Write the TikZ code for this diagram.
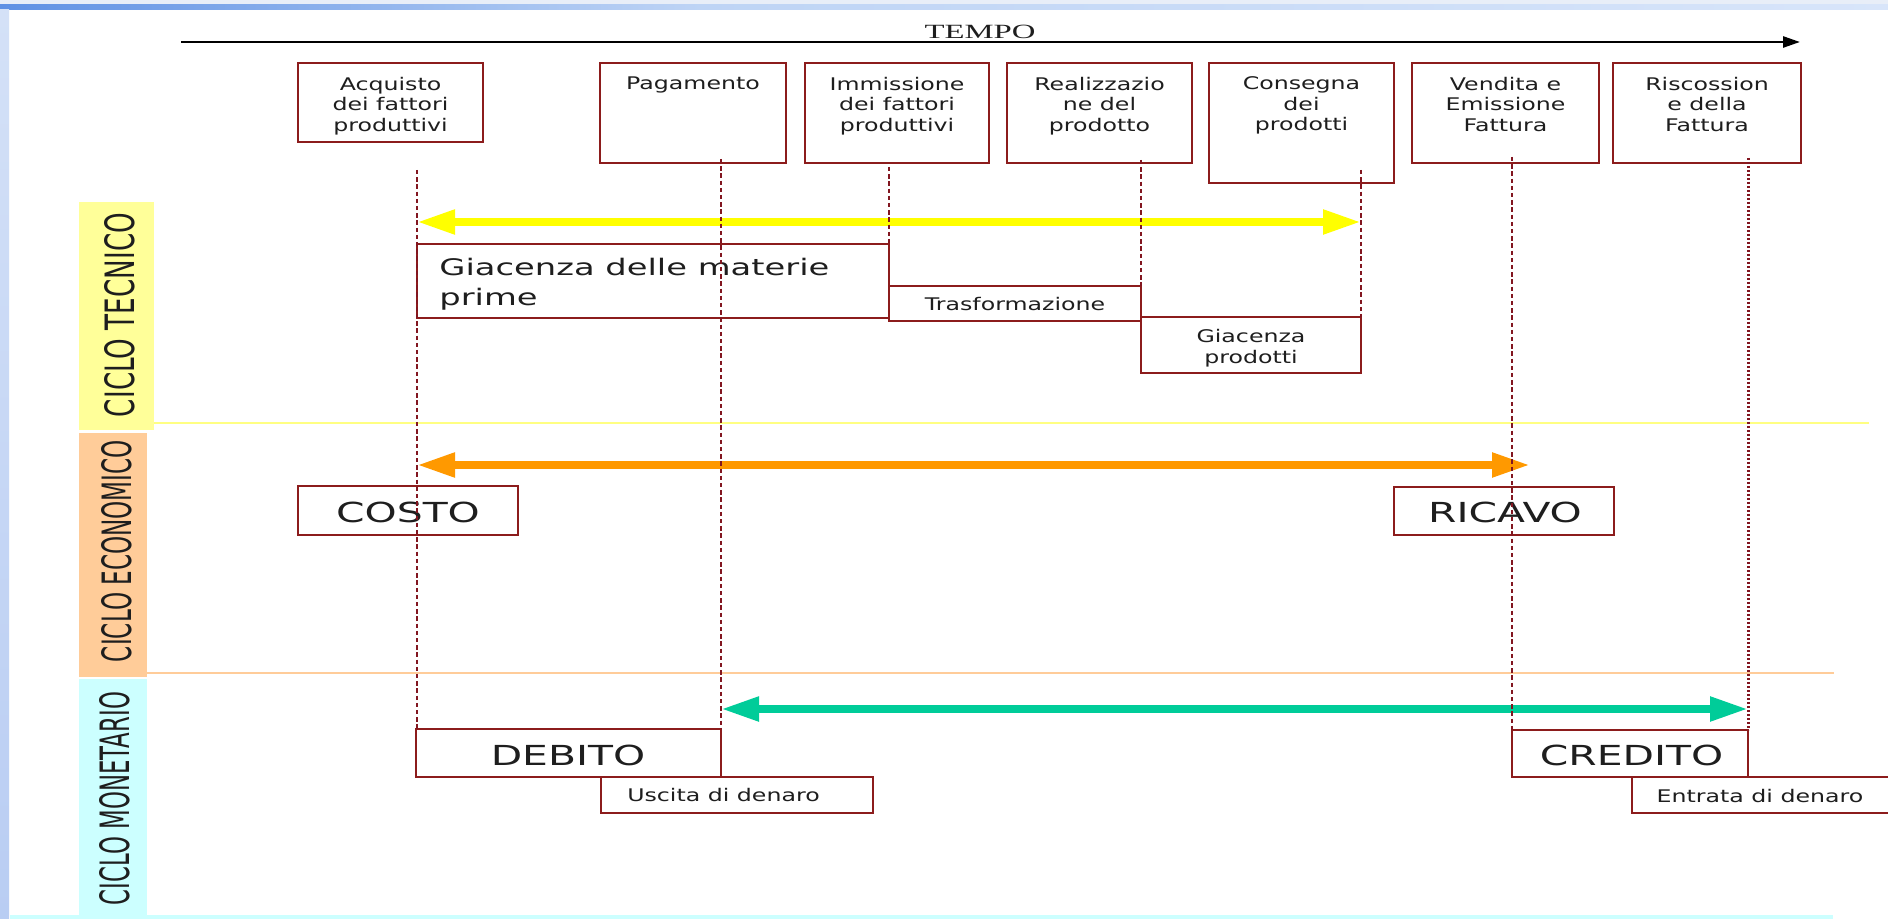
\documentclass[tikz,border=0pt]{standalone}
\usepackage{fontspec}
\usepackage{graphicx}
\usetikzlibrary{arrows.meta,fit}
\newfontfamily\smallf{DejaVu Sans}[FakeStretch=1.36]
\newfontfamily\bigf{DejaVu Sans}[FakeStretch=1.48]
\newfontfamily\tempof{Liberation Serif}[FakeStretch=1.62]
\newfontfamily\bandf{DejaVu Sans}
\definecolor{boxred}{RGB}{140,28,28}
\definecolor{dashred}{RGB}{130,22,32}
\definecolor{yel}{RGB}{255,255,0}
\definecolor{org}{RGB}{255,153,0}
\definecolor{grn}{RGB}{0,204,153}
\definecolor{bandY}{RGB}{255,255,153}
\definecolor{bandO}{RGB}{255,204,153}
\definecolor{bandC}{RGB}{204,255,255}
\definecolor{txt}{RGB}{30,30,30}
\definecolor{topbg}{RGB}{232,238,248}
\definecolor{topA}{RGB}{95,145,228}
\definecolor{topB}{RGB}{190,212,245}
\definecolor{topC}{RGB}{216,229,250}
\definecolor{leftA}{RGB}{212,225,247}
\definecolor{leftB}{RGB}{185,205,243}
\tikzset{
  boxst/.style={draw=boxred, line width=1.2pt, inner sep=0pt, outer sep=0pt},
  lowbox/.style={draw=boxred, line width=1pt, inner sep=0pt, outer sep=0pt},
  smalltxt/.style={inner sep=0pt, align=center, text=txt, font=\smallf\fontsize{8.7pt}{10.3pt}\selectfont},
  bigtxt/.style={inner sep=0pt, text=txt, font=\bigf\fontsize{13.8pt}{16pt}\selectfont},
  vline/.style={draw=dashred, line width=1.4pt, dash pattern=on 2.2pt off 1.4pt},
  vdot/.style={draw=dashred, line width=1.5pt, dash pattern=on 1.1pt off 0.9pt},
  bigarrow/.style={line width=4pt, {Triangle[length=19pt,width=11.5pt]}-{Triangle[length=19pt,width=11.5pt]}},
  bandlbl/.style={inner sep=0pt, text=txt}
}
\begin{document}
\begin{tikzpicture}[x=0.5pt,y=-0.5pt]
\useasboundingbox (0,0) rectangle (1888,919);
% background
\fill[white] (0,0) rectangle (1888,919);
\fill[topbg] (0,0) rectangle (1888,5);
\shade[left color=topA, right color=topB] (0,5) rectangle (700,10);
\shade[left color=topB, right color=topC] (699,5) rectangle (1888,10);
\shade[top color=leftA, bottom color=leftB] (0,10) rectangle (9,919);

% bands
\fill[bandY] (79,202) rectangle (154,430);
\fill[bandO] (79,433) rectangle (147,677);
\fill[bandC] (79,679) rectangle (147,915);
\node[bandlbl] (lblT) at (119.5,315) {\rotatebox{90}{\resizebox{102pt}{15pt}{\bandf CICLO TECNICO}}};
\node[bandlbl] (lblE) at (117,551) {\rotatebox{90}{\resizebox{111pt}{15pt}{\bandf CICLO ECONOMICO}}};
\node[bandlbl] (lblM) at (115,798.5) {\rotatebox{90}{\resizebox{106.5pt}{15pt}{\bandf CICLO MONETARIO}}};

% separator lines
\coordinate (sepYa) at (154,423); \coordinate (sepYb) at (1869,423);
\coordinate (sepOa) at (147,673); \coordinate (sepOb) at (1834,673);
\coordinate (sepCa) at (10,916.5); \coordinate (sepCb) at (1833,916.5);
\draw[bandY!85!yel, line width=0.8pt] (sepYa) -- (sepYb);
\draw[bandO, line width=1pt] (sepOa) -- (sepOb);
\draw[bandC, line width=2pt] (sepCa) -- (sepCb);

% time axis
\coordinate (t0) at (181,42); \coordinate (t1) at (1800,42);
\draw[line width=1.3pt, -{Triangle[length=8.5pt,width=5.5pt]}] (t0) -- (t1);
\node[inner sep=0pt, anchor=base, text=txt, font=\tempof\fontsize{10.1pt}{12pt}\selectfont] (tempo) at (980,38.3) {TEMPO};

% top boxes
\node[boxst, fit={(298,63) (483,142)}] (acq) {};
\node[boxst, fit={(600,63) (786,163)}] (pag) {};
\node[boxst, fit={(805,63) (989,163)}] (imm) {};
\node[boxst, fit={(1007,63) (1192,163)}] (rea) {};
\node[boxst, fit={(1209,63) (1394,183)}] (con) {};
\node[boxst, fit={(1412,63) (1599,163)}] (ven) {};
\node[boxst, fit={(1613,63) (1801,163)}] (ris) {};
\node[smalltxt, anchor=north] (acqT) at (390.5,76.4) {Acquisto\\dei fattori\\produttivi};
\node[smalltxt, anchor=north] (pagT) at (693,76.4) {Pagamento};
\node[smalltxt, anchor=north] (immT) at (897,76.4) {Immissione\\dei fattori\\produttivi};
\node[smalltxt, anchor=north] (reaT) at (1099.5,76.4) {Realizzazio\\ne del\\prodotto};
\node[smalltxt, anchor=north] (conT) at (1301.5,76.4) {Consegna\\dei\\prodotti};
\node[smalltxt, anchor=north] (venT) at (1505.5,76.4) {Vendita e\\Emissione\\Fattura};
\node[smalltxt, anchor=north] (risT) at (1707,76.4) {Riscossion\\e della\\Fattura};

% ciclo tecnico boxes
\node[lowbox, fit={(417,244) (889,318)}] (giaM) {};
\node[inner sep=0pt, anchor=north west, align=left, text=txt, font=\bigf\fontsize{11.4pt}{15pt}\selectfont] (giaMT) at (439,257.7) {Giacenza delle materie\\prime};
\node[lowbox, fit={(889,286) (1141,321)}] (tra) {};
\node[smalltxt, anchor=base] (traT) at (1015,311) {Trasformazione};
\node[lowbox, fit={(1141,317) (1361,373)}] (giaP) {};
\node[smalltxt, anchor=north] (giaPT) at (1251,329) {Giacenza\\prodotti};

% ciclo economico boxes
\node[lowbox, fit={(298,486) (518,535)}] (cos) {};
\node[bigtxt, anchor=base] (cosT) at (408,522) {COSTO};
\node[lowbox, fit={(1394,487) (1614,535)}] (ric) {};
\node[bigtxt, anchor=base] (ricT) at (1505,522.5) {RICAVO};

% ciclo monetario boxes
\node[lowbox, fit={(416,729) (721,777)}] (deb) {};
\node[bigtxt, anchor=base] (debT) at (568,765) {DEBITO};
\node[lowbox, fit={(601,777) (873,813)}] (usc) {};
\node[smalltxt, anchor=base] (uscT) at (723.5,801.7) {Uscita di denaro};
\node[lowbox, fit={(1512,730) (1748,777)}] (cre) {};
\node[bigtxt, anchor=base] (creT) at (1631.5,765) {CREDITO};
\node[lowbox, fit={(1632,777) (1892,813)}] (ent) {};
\node[smalltxt, anchor=base] (entT) at (1760,802) {Entrata di denaro};

% coloured arrows
\coordinate (ya) at (417,222); \coordinate (yb) at (1361,222);
\coordinate (oa) at (417,465); \coordinate (ob) at (1530,465);
\coordinate (ga) at (721,709); \coordinate (gb) at (1748,709);
\draw[bigarrow, yel] (ya) -- (yb);
\draw[bigarrow, org] (oa) -- (ob);
\draw[bigarrow, grn] (ga) -- (gb);

% dashed time lines
\coordinate (d1a) at (417,170); \coordinate (d1b) at (417,729);
\coordinate (d2a) at (721,159); \coordinate (d2b) at (721,729);
\coordinate (d3a) at (889,167); \coordinate (d3b) at (889,244);
\coordinate (d4a) at (1141,160); \coordinate (d4b) at (1141,286);
\coordinate (d5a) at (1361,170); \coordinate (d5b) at (1361,317);
\coordinate (d6a) at (1512,157); \coordinate (d6b) at (1512,730);
\coordinate (d7a) at (1748,158); \coordinate (d7b) at (1748,730);
\draw[vline] (d1a) -- (d1b);
\draw[vline] (d2a) -- (d2b);
\draw[vline] (d3a) -- (d3b);
\draw[vline] (d4a) -- (d4b);
\draw[vline] (d5a) -- (d5b);
\draw[vline] (d6a) -- (d6b);
\draw[vdot] (d7a) -- (d7b);
\end{tikzpicture}
\end{document}
